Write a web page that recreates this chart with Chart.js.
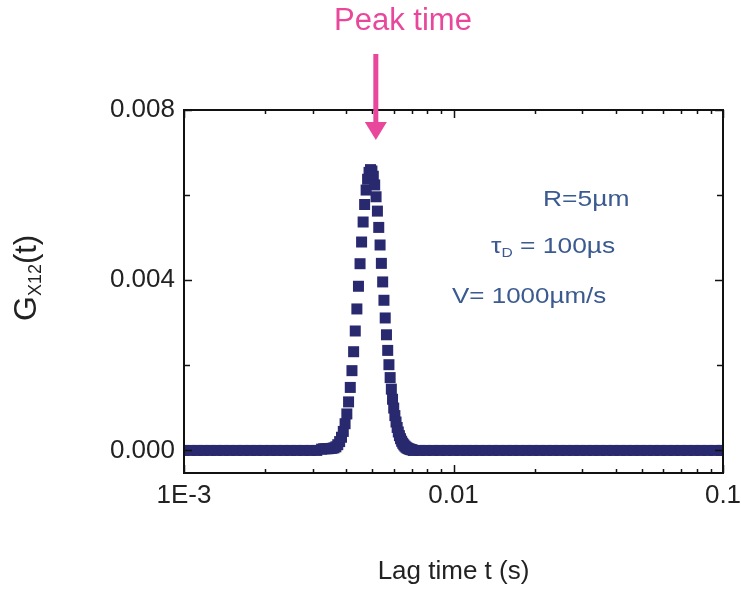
<!DOCTYPE html>
<html>
<head>
<meta charset="utf-8">
<script src="https://cdn.jsdelivr.net/npm/chart.js@4.4.1/dist/chart.umd.min.js"></script>
<style>
  html, body { margin: 0; padding: 0; background: #fff; }
  #wrap { width: 741px; height: 591px; }
</style>
</head>
<body>
<div id="wrap"><canvas id="chart" width="741" height="591"></canvas></div>
<script>
// lag times in ms; flat part before the peak (G = 0)
const baseTimesLeft = [1.00, 1.06, 1.12, 1.18, 1.25, 1.32, 1.40, 1.48, 1.57, 1.66, 1.76, 1.86,
  1.97, 2.09, 2.21, 2.34, 2.48, 2.62, 2.78, 2.94, 3.11];

// peak region, lag time (ms) and G_X12
const peakTimes = [3.24, 3.30, 3.36, 3.42, 3.48, 3.54, 3.60, 3.66, 3.72, 3.78, 3.84, 3.90,
  3.96, 4.02, 4.08, 4.14, 4.20, 4.26, 4.32, 4.38, 4.44, 4.50, 4.56, 4.62,
  4.68, 4.74, 4.80, 4.86, 4.92, 4.98, 5.04, 5.10, 5.16, 5.22, 5.28, 5.34,
  5.40, 5.46, 5.52, 5.58, 5.64, 5.70, 5.76, 5.82, 5.88, 5.94, 6.00, 6.06,
  6.12, 6.18, 6.24, 6.30, 6.36, 6.42, 6.48, 6.54, 6.60, 6.66, 6.72, 6.78,
  6.84, 6.90, 6.96, 7.02];
const peakValues = [0.00003, 0.00004, 0.00004, 0.00004, 0.000045, 0.00005, 0.00006, 0.000085, 0.000135, 0.000208, 0.00031, 0.000447,
  0.000628, 0.000858, 0.001141, 0.001481, 0.001875, 0.00232, 0.002807, 0.003325, 0.003858, 0.004388, 0.004898, 0.005368,
  0.00578, 0.006119, 0.006373, 0.006534, 0.006599, 0.006567, 0.006444, 0.006239, 0.005961, 0.005624, 0.005241, 0.004828,
  0.004396, 0.00396, 0.003529, 0.003113, 0.002718, 0.002351, 0.002015, 0.001712, 0.001441, 0.001203, 0.000996, 0.000819,
  0.000668, 0.00054, 0.000434, 0.000347, 0.000275, 0.000216, 0.000169, 0.000132, 0.000102, 0.000078, 0.00006, 0.000046,
  0.000035, 0.000026, 0.000019, 0.000014];

// flat part after the peak (G = 0)
const baseTimesRight = [7.1, 7.5, 7.9, 8.4, 8.9, 9.4, 10, 10.6, 11.2, 11.8, 12.5, 13.2, 14, 14.8,
  15.7, 16.6, 17.6, 18.6, 19.7, 20.9, 22.1, 23.4, 24.8, 26.2, 27.8, 29.4, 31.1, 33, 34.9, 37,
  39.2, 41.5, 44, 46.6, 49.3, 52.2, 55.3, 58.6, 62.1, 65.8, 69.7, 73.8, 78.2, 82.8, 87.7, 92.9,
  98.4, 100];

const xMajorTicks = [0.001, 0.01, 0.1];
const xMajorLabels = ["1E-3", "0.01", "0.1"];
const xMinorSteps = [2, 3, 4, 5, 6, 7, 8, 9];
const yTicks = [0, 0.002, 0.004, 0.006, 0.008];
const yLabelled = [0, 0.004, 0.008];

const FONT = '"Liberation Sans", Arial, Helvetica, sans-serif';
const MARK = "#29296f";
const PINK = "#e8479b";
const NOTE = "#3a5a90";

function buildPoints() {
  const pts = [];
  baseTimesLeft.forEach(t => pts.push({ x: t / 1000, y: 0 }));
  peakTimes.forEach((t, i) => pts.push({ x: t / 1000, y: peakValues[i] }));
  baseTimesRight.forEach(t => pts.push({ x: t / 1000, y: 0 }));
  return pts;
}

function xTickList() {
  const list = [];
  xMajorTicks.forEach((v, i) => {
    list.push({ value: v, major: true });
    if (i < xMajorTicks.length - 1) xMinorSteps.forEach(m => list.push({ value: v * m, major: false }));
  });
  return list;
}

function isLabelled(v) {
  return yLabelled.some(l => Math.abs(l - v) < 1e-9);
}

function drawStretched(ctx, x, y, parts, sx) {
  ctx.save();
  ctx.translate(x, y);
  ctx.scale(sx, 1);
  let cx = 0;
  parts.forEach(p => {
    ctx.font = p.size + "px " + FONT;
    ctx.fillText(p.text, cx, p.dy || 0);
    cx += ctx.measureText(p.text).width;
  });
  ctx.restore();
}

const overlay = {
  id: "overlay",
  afterDraw(chart) {
    const { ctx, chartArea: a, scales: { x, y } } = chart;
    ctx.save();

    // frame
    ctx.strokeStyle = "#111";
    ctx.lineWidth = 2;
    ctx.strokeRect(a.left, a.top, a.right - a.left, a.bottom - a.top);

    // inward ticks on all four sides
    ctx.lineWidth = 1.5;
    ctx.beginPath();
    xTickList().forEach(t => {
      const px = Math.round(x.getPixelForValue(t.value)) + 0.5;
      const len = t.major ? 8 : 4;
      ctx.moveTo(px, a.bottom); ctx.lineTo(px, a.bottom - len);
      ctx.moveTo(px, a.top); ctx.lineTo(px, a.top + len);
    });
    yTicks.forEach(v => {
      const py = Math.round(y.getPixelForValue(v)) + 0.5;
      const len = isLabelled(v) ? 8 : 6;
      ctx.moveTo(a.left, py); ctx.lineTo(a.left + len, py);
      ctx.moveTo(a.right, py); ctx.lineTo(a.right - len, py);
    });
    ctx.stroke();

    // y axis title G_X12(t)
    ctx.fillStyle = "#222";
    ctx.save();
    ctx.translate(36, 321);
    ctx.rotate(-Math.PI / 2);
    ctx.textAlign = "left";
    ctx.textBaseline = "alphabetic";
    let w = 0;
    ctx.font = "32px " + FONT;
    ctx.fillText("G", w, 0);
    w += ctx.measureText("G").width;
    ctx.font = "18px " + FONT;
    ctx.fillText("X12", w, 5);
    w += ctx.measureText("X12").width;
    ctx.font = "31px " + FONT;
    ctx.fillText("(t)", w, 0);
    ctx.restore();

    // peak time arrow
    const ax = x.getPixelForValue(0.00515);
    ctx.fillStyle = PINK;
    ctx.strokeStyle = PINK;
    ctx.font = "31px " + FONT;
    ctx.textAlign = "center";
    ctx.textBaseline = "alphabetic";
    ctx.fillText("Peak time", 403, 30);
    ctx.lineWidth = 5;
    ctx.beginPath();
    ctx.moveTo(ax, 54); ctx.lineTo(ax, 126);
    ctx.stroke();
    ctx.beginPath();
    ctx.moveTo(ax - 11, 122); ctx.lineTo(ax + 11, 122); ctx.lineTo(ax, 140);
    ctx.closePath();
    ctx.fill();

    // parameters
    ctx.fillStyle = NOTE;
    ctx.textAlign = "left";
    ctx.textBaseline = "middle";
    drawStretched(ctx, 543, 200, [{ text: "R=5µm", size: 22 }], 1.2);
    drawStretched(ctx, 491, 247, [
      { text: "τ", size: 22 },
      { text: "D", size: 13, dy: 6 },
      { text: " = 100µs", size: 22 }], 1.2);
    drawStretched(ctx, 452, 297, [{ text: "V= 1000µm/s", size: 22 }], 1.18);

    ctx.restore();
  }
};

Chart.defaults.font.family = FONT;
Chart.defaults.color = "#222";

new Chart(document.getElementById("chart"), {
  type: "scatter",
  data: {
    datasets: [{
      data: buildPoints(),
      pointStyle: "rect",
      pointRadius: 7.78,
      pointHoverRadius: 7.78,
      borderWidth: 0,
      backgroundColor: MARK,
      borderColor: MARK,
      showLine: false,
      clip: 0
    }]
  },
  options: {
    responsive: false,
    animation: false,
    events: [],
    layout: { padding: { top: 110, right: 18, left: 0, bottom: 0 } },
    plugins: { legend: { display: false }, tooltip: { enabled: false } },
    scales: {
      x: {
        type: "logarithmic",
        min: 0.001,
        max: 0.1,
        afterBuildTicks: s => { s.ticks = xTickList().map(t => ({ value: t.value, major: t.major })); },
        afterFit: s => { s.height = 118; s.paddingLeft = 0; s.paddingRight = 0; },
        grid: { display: false, drawTicks: false },
        border: { display: false },
        ticks: {
          autoSkip: false,
          maxRotation: 0,
          padding: 7,
          font: { size: 26 },
          color: "#222",
          callback: function (v) {
            const i = xMajorTicks.findIndex(m => Math.abs(m - v) / m < 1e-6);
            return i >= 0 ? xMajorLabels[i] : "";
          }
        },
        title: {
          display: true,
          text: "Lag time t (s)",
          color: "#222",
          font: { size: 26 },
          padding: { top: 0, bottom: 4 }
        }
      },
      y: {
        min: -0.00053,
        max: 0.008,
        afterBuildTicks: s => { s.ticks = yTicks.map(v => ({ value: v })); },
        afterFit: s => { s.width = 184; s.paddingTop = 0; s.paddingBottom = 0; },
        grid: { display: false, drawTicks: false },
        border: { display: false },
        ticks: {
          padding: 9,
          font: { size: 26 },
          color: "#222",
          callback: v => isLabelled(v) ? v.toFixed(3) : ""
        }
      }
    }
  },
  plugins: [overlay]
});
</script>
</body>
</html>
